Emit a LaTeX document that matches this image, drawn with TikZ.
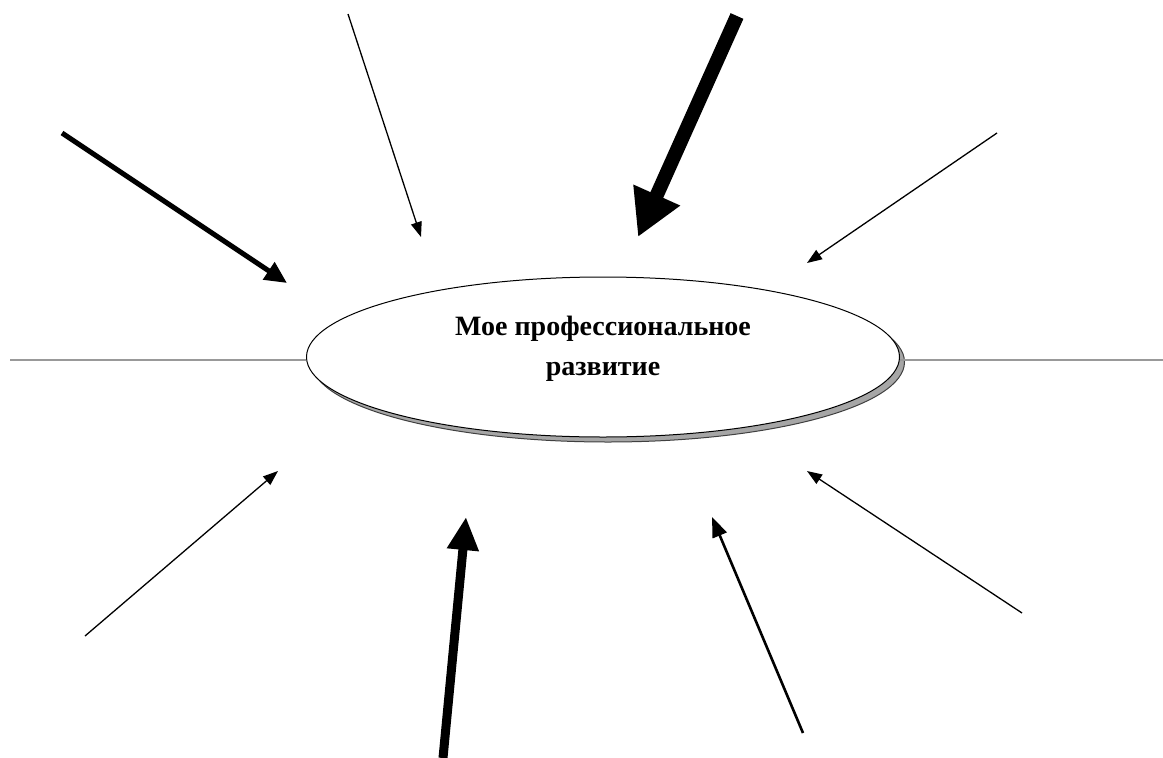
\documentclass[tikz,border=0pt]{standalone}
\usepackage{fontspec}
\setmainfont{Liberation Serif}
\usetikzlibrary{arrows.meta,shapes.geometric}
\begin{document}
\begin{tikzpicture}[x=1pt,y=-1pt,
  thinarrow/.style={draw=black,line width=1.3pt,-{Triangle[length=15pt,width=11pt]}},
  midarrow/.style={draw=black,line width=2.6pt,-{Triangle[length=20pt,width=15pt]}},
  thickarrow/.style={draw=black,line width=5pt,-{Triangle[length=22pt,width=20pt]}},
  heavyarrow/.style={draw=black,line width=9pt,-{Triangle[length=33pt,width=30pt]}},
  hugearrow/.style={draw=black,line width=14pt,-{Triangle[length=46pt,width=48pt]}},
  axis/.style={draw=gray!80,line width=1.5pt},
  oval/.style={ellipse,minimum width=593pt,minimum height=160pt,inner sep=0pt},
  label/.style={font=\bfseries\fontsize{28}{40}\selectfont,anchor=base,inner sep=0pt}]
\useasboundingbox (0,0) rectangle (1163,758);
% shadow
\node[oval,fill=gray!70,draw=gray!50!black,line width=1pt] (shadow) at (608,362) {};
\node[oval,fill=white,draw=black,line width=1pt] (core) at (603,357) {};
\node[label] (t1) at (603,335) {Мое профессиональное};
\node[label] (t2) at (603,375) {развитие};
% horizontal axis
\coordinate (L) at (10,360);
\coordinate (R) at (1163,360);
\draw[axis] (L) -- (L -| core.west);
\draw[axis] (R -| core.east) -- (R);
% arrow endpoints
\coordinate (a1s) at (62,133);  \coordinate (a1e) at (287,283);
\coordinate (a2s) at (348,14);  \coordinate (a2e) at (421,237);
\coordinate (a3s) at (737,16);  \coordinate (a3e) at (638,237);
\coordinate (a4s) at (997,133); \coordinate (a4e) at (807,263);
\coordinate (a5s) at (85,636);  \coordinate (a5e) at (278,471);
\coordinate (a6s) at (443,758); \coordinate (a6e) at (466,517);
\coordinate (a7s) at (803,733); \coordinate (a7e) at (712,517);
\coordinate (a8s) at (1022,613);\coordinate (a8e) at (807,471);
\draw[thickarrow] (a1s) -- (a1e);
\draw[thinarrow] (a2s) -- (a2e);
\draw[hugearrow] (a3s) -- (a3e);
\draw[thinarrow] (a4s) -- (a4e);
\draw[thinarrow] (a5s) -- (a5e);
\draw[heavyarrow] (a6s) -- (a6e);
\draw[midarrow] (a7s) -- (a7e);
\draw[thinarrow] (a8s) -- (a8e);
\end{tikzpicture}
\end{document}
